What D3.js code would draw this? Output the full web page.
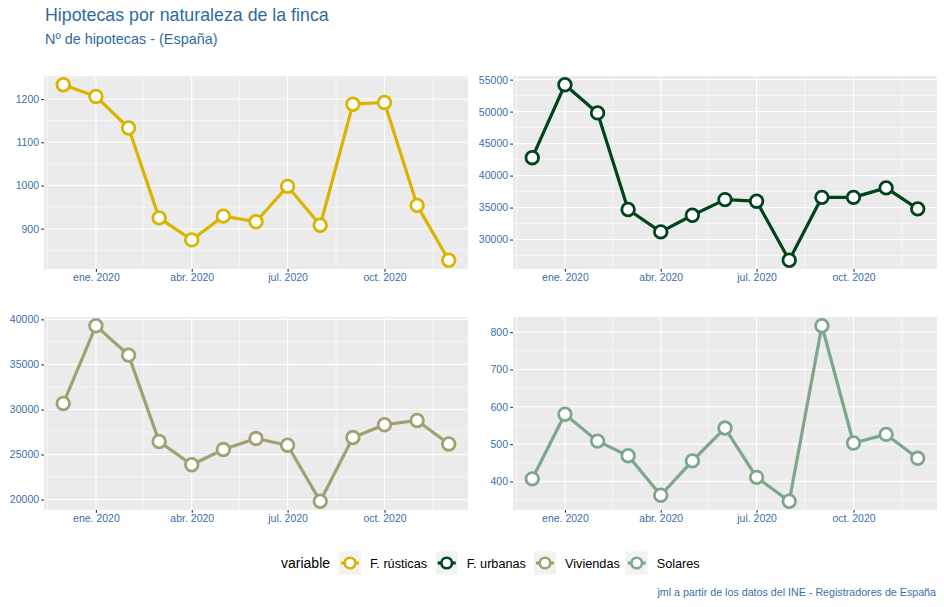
<!DOCTYPE html>
<html><head><meta charset="utf-8">
<script src="https://cdn.jsdelivr.net/npm/d3@7"></script>
<style>body{margin:0;background:#fff}svg{display:block;font-family:"Liberation Sans",Arial,sans-serif}</style>
</head><body><svg id="c" width="944" height="607"></svg>
<script>
const months = ["2019-12-01","2020-01-01","2020-02-01","2020-03-01","2020-04-01","2020-05-01","2020-06-01","2020-07-01","2020-08-01","2020-09-01","2020-10-01","2020-11-01","2020-12-01"];
const seriesNames = ["F. rústicas","F. urbanas","Viviendas","Solares"];
const rusticas = [1233,1206,1133,925,874,929,916,998,908,1188,1192,954,827];
const urbanas = [42800,54200,49800,34700,31200,33800,36250,36000,26770,36600,36600,38080,34800];
const viviendas = [30660,39290,36030,26440,23860,25550,26770,26030,19810,26880,28300,28780,26170];
const solares = [407,580,508,469,363,455,543,411,347,817,503,526,462];
const yTicks = [[900,1000,1100,1200],[30000,35000,40000,45000,50000,55000],[20000,25000,30000,35000,40000],[400,500,600,700,800]];
const xBreaks = ["2019-10-01","2020-01-01","2020-04-01","2020-07-01","2020-10-01","2021-01-01"];
const xLabels = ["oct. 2019","ene. 2020","abr. 2020","jul. 2020","oct. 2020","ene. 2021"];
const colors = ["#D9B400","#00441B","#A0A070","#7DA68A"];
const title = "Hipotecas por naturaleza de la finca";
const subtitle = "Nº de hipotecas - (España)";
const caption = "jml a partir de los datos del INE - Registradores de España";

const svg = d3.select("#c");
const parse = d3.utcParse("%Y-%m-%d");
const dates = months.map(parse);
const breaks = xBreaks.map(parse);
const allValues = [rusticas, urbanas, viviendas, solares];
const txtCol = "#3C6EA8";

svg.append("text").attr("x",45).attr("y",21).attr("fill","#2F6A9C").attr("font-size",17.8).text(title);
svg.append("text").attr("x",45).attr("y",43.5).attr("fill","#2F6A9C").attr("font-size",14.4).text(subtitle);

const panels = [
  {x0:44,x1:468,y0:76,y1:269},
  {x0:513,x1:937,y0:76,y1:269},
  {x0:44,x1:468,y0:317,y1:510},
  {x0:513,x1:937,y0:317,y1:510}
];

const xExt = d3.extent(dates);
const span = xExt[1]-xExt[0];
const xDom = [new Date(+xExt[0]-span*0.05), new Date(+xExt[1]+span*0.05)];

panels.forEach((p,i)=>{
  const vals = allValues[i];
  const ext = d3.extent(vals);
  const r = ext[1]-ext[0];
  const y = d3.scaleLinear().domain([ext[0]-r*0.05, ext[1]+r*0.05]).range([p.y1,p.y0]);
  const x = d3.scaleUtc().domain(xDom).range([p.x0,p.x1]);
  const g = svg.append("g");
  g.append("rect").attr("x",p.x0).attr("y",p.y0).attr("width",p.x1-p.x0).attr("height",p.y1-p.y0).attr("fill","#EBEBEB");
  const yt = yTicks[i];
  const step = yt[1]-yt[0];
  const yMinor = [];
  for (let k=-1;k<yt.length;k++){ const v = (k<0? yt[0]-step/2 : yt[k]+step/2); if (v>=y.domain()[0] && v<=y.domain()[1]) yMinor.push(v); }
  const xMinor = [];
  for (let k=0;k<breaks.length-1;k++){ const m = new Date((+breaks[k]+ +breaks[k+1])/2); if (m>=xDom[0] && m<=xDom[1]) xMinor.push(m); }
  g.selectAll(null).data(yMinor).enter().append("line").attr("x1",p.x0).attr("x2",p.x1).attr("y1",d=>y(d)).attr("y2",d=>y(d)).attr("stroke","#fff").attr("stroke-width",0.55);
  g.selectAll(null).data(xMinor).enter().append("line").attr("y1",p.y0).attr("y2",p.y1).attr("x1",d=>x(d)).attr("x2",d=>x(d)).attr("stroke","#fff").attr("stroke-width",0.55);
  g.selectAll(null).data(yt).enter().append("line").attr("x1",p.x0).attr("x2",p.x1).attr("y1",d=>y(d)).attr("y2",d=>y(d)).attr("stroke","#fff").attr("stroke-width",1.1);
  const xb = breaks.map((b,k)=>({d:b,l:xLabels[k]})).filter(o=>o.d>=xDom[0]&&o.d<=xDom[1]);
  g.selectAll(null).data(xb).enter().append("line").attr("y1",p.y0).attr("y2",p.y1).attr("x1",d=>x(d.d)).attr("x2",d=>x(d.d)).attr("stroke","#fff").attr("stroke-width",1.1);
  const ya = d3.axisLeft(y).tickValues(yt).tickSize(2.75).tickPadding(2.2).tickFormat(d3.format("d"));
  const ay = svg.append("g").attr("transform",`translate(${p.x0},0)`).call(ya);
  ay.select(".domain").remove();
  ay.selectAll("line").attr("stroke","#333").attr("stroke-width",1.1);
  ay.selectAll("text").attr("fill",txtCol).attr("font-size",10.5).attr("font-family","Liberation Sans, Arial, sans-serif");
  const xa = d3.axisBottom(x).tickValues(xb.map(o=>o.d)).tickSize(2.75).tickPadding(2.2).tickFormat((d,k)=>xb[k].l);
  const ax = svg.append("g").attr("transform",`translate(0,${p.y1})`).call(xa);
  ax.select(".domain").remove();
  ax.selectAll("line").attr("stroke","#333").attr("stroke-width",1.1);
  ax.selectAll("text").attr("fill",txtCol).attr("font-size",10.5).attr("font-family","Liberation Sans, Arial, sans-serif");
  const line = d3.line().x((d,k)=>x(dates[k])).y(d=>y(d));
  g.append("path").datum(vals).attr("d",line).attr("fill","none").attr("stroke",colors[i]).attr("stroke-width",3.2).attr("stroke-linejoin","round");
  g.selectAll(null).data(vals).enter().append("circle").attr("cx",(d,k)=>x(dates[k])).attr("cy",d=>y(d)).attr("r",6.3).attr("fill","#fff").attr("stroke",colors[i]).attr("stroke-width",2.8);
});

const lg = svg.append("g");
lg.append("text").attr("x",281).attr("y",568).attr("font-size",14).attr("fill","#000").text("variable");
const keyCx = [350,446.7,545,636.7];
seriesNames.forEach((n,i)=>{
  const cx = keyCx[i], cy = 563;
  lg.append("rect").attr("x",cx-11).attr("y",cy-11.5).attr("width",22).attr("height",23).attr("fill","#F2F2F2");
  lg.append("line").attr("x1",cx-9).attr("x2",cx+9).attr("y1",cy).attr("y2",cy).attr("stroke",colors[i]).attr("stroke-width",3.2);
  lg.append("circle").attr("cx",cx).attr("cy",cy).attr("r",5.3).attr("fill","#fff").attr("stroke",colors[i]).attr("stroke-width",2.6);
  lg.append("text").attr("x",cx+20).attr("y",cy+4.5).attr("font-size",12.7).attr("fill","#000").text(n);
});

svg.append("text").attr("x",936).attr("y",596).attr("text-anchor","end").attr("font-size",10.7).attr("fill",txtCol).text(caption);
</script></body></html>
